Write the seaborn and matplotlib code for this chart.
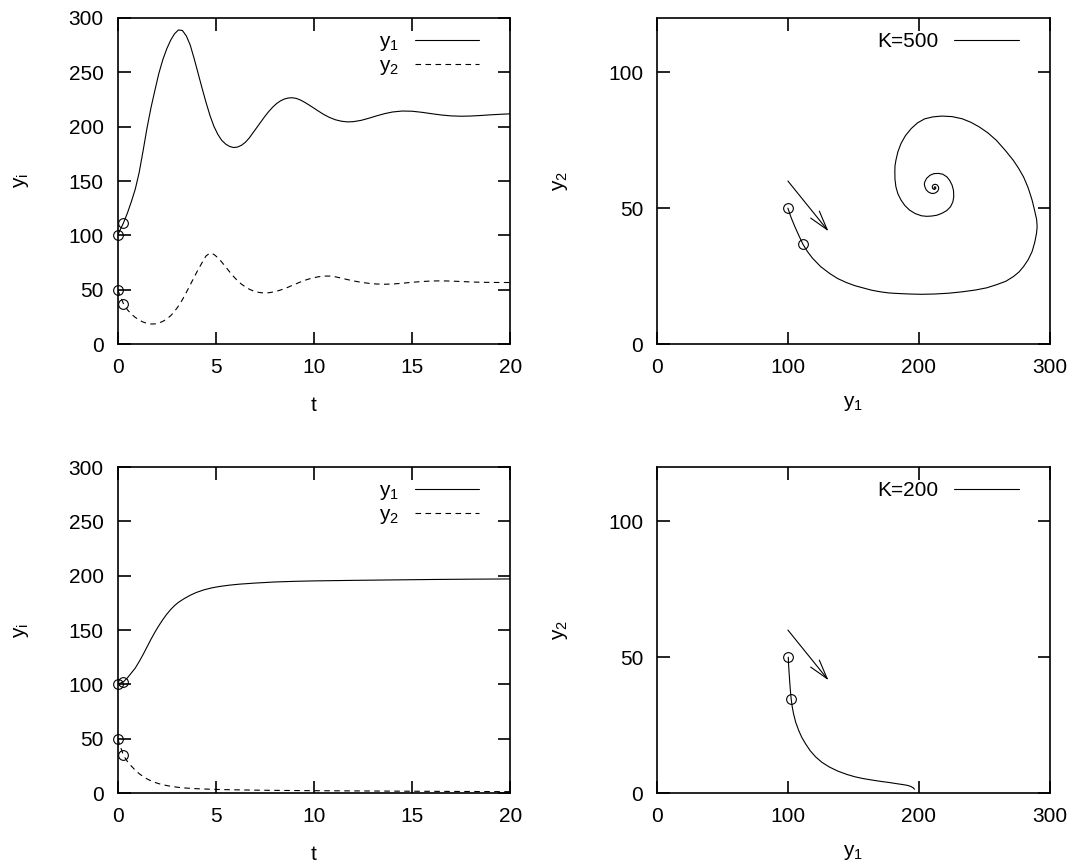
import matplotlib
matplotlib.use("Agg")
import matplotlib.pyplot as plt
import seaborn as sns

# ---- time series, K = 500 ----
t_k500 = [0, 0.3, 0.5, 0.7, 0.9, 1.1, 1.3, 1.5, 1.7, 1.9,
          2.1, 2.3, 2.5, 2.7, 2.9, 3.1, 3.3, 3.5, 3.7, 3.9,
          4.1, 4.3, 4.5, 4.7, 4.9, 5.1, 5.3, 5.5, 5.7, 5.9,
          6.1, 6.3, 6.5, 6.7, 6.9, 7.1, 7.3, 7.5, 7.7, 7.9,
          8.1, 8.3, 8.5, 8.7, 8.9, 9.1, 9.3, 9.5, 9.7, 9.9,
          10.2, 10.5, 10.8, 11.1, 11.4, 11.7, 12.0,
          12.4, 12.8, 13.2, 13.6, 14.0,
          14.5, 15.0, 15.5, 16.0, 16.5, 17.0, 17.5, 18.0, 18.5, 19.0, 19.5,
          20.0]
y1_k500 = [100, 111.5, 120.5, 131, 142.5, 158, 178, 199, 217.5, 233.5,
           249, 261.5, 271.5, 279.5, 285.5, 289, 288.5, 283.5, 275, 262.5,
           249, 235.5, 222.5, 210.5, 200.5, 193, 187.5, 184, 181.8, 180.8,
           181.2, 182.8, 185.5, 189.5, 194.5, 199.5, 204.5, 209.5, 214, 218,
           221.3, 223.8, 225.5, 226.4, 226.6, 226, 224.6, 222.7, 220.5, 218.2,
           214.6, 211.2, 208.4, 206.3, 205, 204.4, 204.6,
           205.8, 207.8, 210, 212, 213.5,
           214.4, 214.2, 213.2, 211.9, 210.7, 209.9, 209.6, 209.8, 210.3,
           210.9, 211.4,
           211.8]
y2_k500 = [50, 37, 31.5, 27.5, 24.5, 22, 20.2, 19, 18.4, 18.5,
           19.3, 20.8, 23, 26, 30, 35, 40.8, 47.5, 54.5, 61.5,
           68.5, 74.8, 81, 83.6, 82.5, 79.5, 75.5, 71, 66.5, 62.2,
           58.4, 55.2, 52.6, 50.5, 48.9, 47.8, 47.2, 47, 47.2, 47.8,
           48.6, 49.7, 51, 52.4, 54, 55.5, 57, 58.4, 59.6, 60.6,
           61.8, 62.5, 62.5, 61.8, 60.6, 59.3, 58.1,
           56.8, 55.8, 55.2, 55, 55.2,
           55.9, 56.8, 57.5, 58, 58.1, 57.9, 57.5, 57.1, 56.8, 56.7, 56.6,
           56.6]

# ---- time series, K = 200 ----
t_k200 = [0, 0.3, 0.5, 0.7, 0.9, 1.1, 1.3, 1.5, 1.7, 1.9, 2.1, 2.3, 2.5,
          2.7, 2.9, 3.1, 3.4, 3.7, 4.0, 4.4, 4.8, 5.2, 5.7, 6.2, 7.0, 8.0,
          9.0, 10.0, 12.0, 14.0, 16.0, 18.0, 20.0]
y1_k200 = [100, 102.4, 106, 110.5, 115, 121, 127.5, 134.5, 141.5, 148, 154,
           159.5, 164.5, 168.8, 172.5, 175.5, 179, 182, 184.5, 187, 188.8,
           190.1, 191.3, 192.2, 193.2, 194.2, 194.8, 195.2, 195.7, 196.1,
           196.5, 196.8, 197.0]
y2_k200 = [50, 34.6, 29, 24.8, 21, 17.8, 15.2, 13, 11.2, 9.8, 8.6, 7.7, 6.9,
           6.2, 5.7, 5.2, 4.7, 4.3, 4.0, 3.7, 3.45, 3.25, 3.05, 2.9, 2.65,
           2.45, 2.3, 2.15, 1.95, 1.75, 1.55, 1.4, 1.25]

# ---- phase trajectories (y1, y2) ----
phase_y1_k500 = [100, 102.5, 105.5, 108.5, 111.5, 115, 118.8, 125, 131.8,
                 138, 144.8, 151, 157.8, 164, 170.8, 177, 183.8, 193, 202,
                 212, 222.8, 233, 243.6, 252, 259.2, 266.5, 272.2, 276.5,
                 280, 283.5, 286.5, 288.5, 289.9, 290.4, 290.0, 289, 287.8,
                 286.5, 285, 283.5, 281.8, 280, 276.2, 272.2, 266, 259.2,
                 252.8, 246.2, 239.8, 233.2, 225.5, 217.6, 210.8, 204.6,
                 199, 194.2, 189.8, 186.4, 184, 182.5, 181.8, 181.7, 181.8,
                 182.5, 184, 186.4, 189.3, 192.9, 197.3, 202, 206, 209.8,
                 213.8, 217.6, 221.3, 224.2, 226, 226.7, 226.5, 225.4, 223.6,
                 221.5, 218.3, 215, 211.5, 208.5, 206, 204.6, 204.2, 204.6,
                 205.6, 207.2, 209.2, 211.1, 213, 214.5, 215.2, 215, 213.9,
                 212.4, 211.1, 210.3, 210.4, 211.1, 212.1, 212.9, 213, 212.4,
                 211.8, 211.8]
phase_y2_k500 = [50, 46.5, 43, 39.8, 36.7, 34, 31.6, 28.5, 26,
                 24.1, 22.6, 21.5, 20.6, 19.8, 19.2, 18.8, 18.6, 18.4, 18.3,
                 18.4, 18.7, 19.2, 19.9, 20.7, 21.8, 23.1, 24.8, 26.5,
                 28.5, 31, 34, 37.3, 40.7, 43.2, 45.8, 48, 50.5,
                 53, 55.3, 57.5, 59.5, 61.5, 64.7, 67.6, 71.3, 75,
                 77.7, 79.9, 81.6, 82.9, 83.7, 83.9, 83.6, 82.9,
                 81.4, 79.3, 76.7, 73.8, 70.7, 67.6, 65.5, 63.4, 60.6,
                 57.9, 55.3, 53, 51, 49.3, 48, 47.2, 47, 47.1,
                 47.4, 48.1, 49.1, 50.5, 52.3, 54.2, 56.5, 58.5, 60.2,
                 61.5, 62.5, 62.8, 62.7, 62.1, 61, 59.7, 58.8, 57.9,
                 56.8, 56, 55.5, 55.4, 55.7, 56.3, 57.1, 57.9, 58.6,
                 58.8, 58.6, 58.1, 57.4, 57, 56.9, 57.2, 57.6, 57.9,
                 57.7, 57.3]
phase_y1_k200 = [100.3, 100.5, 100.9, 101.4, 101.9, 102.5, 103.3, 104.3, 106,
                 108.2, 110.6, 113.4, 117, 121.2, 126, 131.6, 138, 144.7, 151,
                 157.7, 164, 170.7, 177, 183.7, 188, 191.5, 194, 195.8, 196.7]
phase_y2_k200 = [50, 47.5, 44.5, 41, 37.8, 34.7, 31.8, 29.2, 26,
                 23.1, 20.5, 18.2, 15.6, 13.3, 11.3, 9.6, 8.1, 6.9, 6,
                 5.3, 4.8, 4.3, 3.9, 3.4, 3.1, 2.8, 2.4, 1.9, 1.4]

# ---- marked states at t = 0 and t = 0.3 ----
mark_t = [0, 0.3]
mark_y1_k500 = [100, 111.5]
mark_y2_k500 = [50, 36.7]
mark_y1_k200 = [100, 102.4]
mark_y2_k200 = [50, 34.6]

# direction arrow in the phase plane
arrow_start = (100, 60)
arrow_end = (131, 41.5)

sns.set_theme(style="ticks")
plt.rcParams.update({
    "font.family": ["Liberation Sans", "DejaVu Sans"],
    "mathtext.default": "regular",
    "font.size": 15,
    "axes.labelsize": 15,
    "legend.fontsize": 15,
    "xtick.labelsize": 15,
    "ytick.labelsize": 15,
    "axes.linewidth": 1.2,
    "axes.edgecolor": "black",
    "xtick.color": "black",
    "ytick.color": "black",
    "text.color": "black",
    "axes.labelcolor": "black",
})

fig = plt.figure(figsize=(10.74, 8.65), dpi=100)
W, H = 0.3657, 0.3769
ax_tl = fig.add_axes([0.1095, 0.6023, W, H])
ax_tr = fig.add_axes([0.6117, 0.6023, W, H])
ax_bl = fig.add_axes([0.1095, 0.0832, W, H])
ax_br = fig.add_axes([0.6117, 0.0832, W, H])

LW = 0.8
DASH = (0, (5, 4))


def style_axes(ax):
    ax.tick_params(direction="in", top=True, right=True, length=9,
                   width=1.2, labelsize=15, pad=10)
    for s in ax.spines.values():
        s.set_linewidth(1.2)


def legend(ax):
    ax.legend(loc="upper right", bbox_to_anchor=(0.942, 0.982),
              borderaxespad=0, markerfirst=False, frameon=False,
              fontsize=15, handlelength=3.1, handletextpad=0.75,
              labelspacing=0.15)


def marks(ax, x, y):
    ax.plot(x, y, "o", mfc="none", mec="black", ms=7, mew=0.8,
            clip_on=False, zorder=5)


def time_panel(ax, t, y1, y2, my1, my2):
    sns.lineplot(x=t, y=y1, ax=ax, color="black", lw=LW, label="y$_1$",
                 sort=False, estimator=None)
    sns.lineplot(x=t, y=y2, ax=ax, color="black", lw=LW, linestyle=DASH,
                 label="y$_2$", sort=False, estimator=None)
    marks(ax, mark_t, my1)
    marks(ax, mark_t, my2)
    ax.set_xlim(0, 20)
    ax.set_ylim(0, 300)
    ax.set_xticks([0, 5, 10, 15, 20])
    ax.set_yticks([0, 50, 100, 150, 200, 250, 300])
    ax.set_xlabel("t", labelpad=14)
    ax.set_ylabel("y$_i$", labelpad=27)
    style_axes(ax)
    legend(ax)


def phase_panel(ax, p1, p2, my1, my2, label):
    sns.lineplot(x=p1, y=p2, ax=ax, color="black", lw=LW, label=label,
                 sort=False, estimator=None)
    marks(ax, my1, my2)
    ax.annotate("", xy=arrow_end, xytext=arrow_start,
                arrowprops=dict(arrowstyle="->,head_length=0.7,head_width=0.2",
                                lw=LW, color="black", shrinkA=0, shrinkB=0,
                                mutation_scale=20))
    ax.set_xlim(0, 300)
    ax.set_ylim(0, 120)
    ax.set_xticks([0, 100, 200, 300])
    ax.set_yticks([0, 50, 100])
    ax.set_xlabel("y$_1$", labelpad=12)
    ax.set_ylabel("y$_2$", labelpad=27)
    style_axes(ax)
    legend(ax)


time_panel(ax_tl, t_k500, y1_k500, y2_k500, mark_y1_k500, mark_y2_k500)
phase_panel(ax_tr, phase_y1_k500, phase_y2_k500, mark_y1_k500, mark_y2_k500,
            "K=500")
time_panel(ax_bl, t_k200, y1_k200, y2_k200, mark_y1_k200, mark_y2_k200)
phase_panel(ax_br, phase_y1_k200, phase_y2_k200, mark_y1_k200, mark_y2_k200,
            "K=200")

fig.savefig("out.png", dpi=100)
